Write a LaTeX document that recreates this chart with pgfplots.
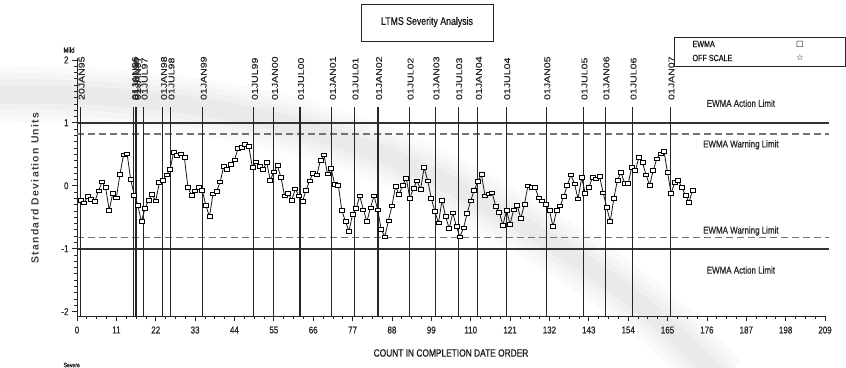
\documentclass[border=0pt]{standalone}
\usepackage{pgfplots}
\pgfplotsset{compat=1.18}
\usepackage{pgfplotstable}
\usepackage{fontspec}
\setmainfont{Liberation Sans}
\newfontfamily\cond{Liberation Sans}[FakeStretch=0.8, FakeBold=0.6]
\newfontfamily\wide{Liberation Sans}[FakeStretch=1.25, FakeBold=0.4]
\newfontfamily\ylabfont{Liberation Sans}[LetterSpace=12]
\newfontfamily\symfont{DejaVu Sans}

% EWMA of standardized severity, in completion order
\pgfplotstableread{
n v
1 -0.23
2 -0.27
3 -0.17
4 -0.22
5 -0.25
6 -0.08
7 0.06
8 -0.03
9 -0.39
10 -0.12
11 -0.19
12 0.18
13 0.49
14 0.51
15 0.10
16 -0.15
17 -0.31
18 -0.57
19 -0.36
20 -0.23
21 -0.14
22 -0.24
23 0.05
24 0.09
25 0.17
26 0.26
27 0.53
28 0.48
29 0.51
30 0.45
31 -0.03
32 -0.15
33 -0.08
34 -0.03
35 -0.07
36 -0.31
37 -0.49
38 -0.13
39 -0.09
40 0.06
41 0.31
42 0.26
43 0.34
44 0.41
45 0.59
46 0.61
47 0.66
48 0.63
49 0.29
50 0.38
51 0.31
52 0.26
53 0.37
54 0.09
55 0.22
56 0.32
57 0.13
58 -0.16
59 -0.12
60 -0.23
61 -0.05
62 -0.16
63 -0.25
64 -0.07
65 0.08
66 0.20
67 0.17
68 0.40
69 0.49
70 0.19
71 0.28
72 0.02
73 0.01
74 -0.39
75 -0.57
76 -0.72
77 -0.45
78 -0.36
79 -0.16
80 -0.38
81 -0.57
82 -0.35
83 -0.16
84 -0.38
85 -0.69
86 -0.81
87 -0.56
88 -0.32
89 -0.01
90 -0.14
91 0.01
92 0.12
93 -0.20
94 -0.04
95 0.08
96 -0.06
97 0.29
98 0.08
99 -0.20
100 -0.41
101 -0.59
102 -0.23
103 -0.49
104 -0.68
105 -0.43
106 -0.65
107 -0.81
108 -0.67
109 -0.44
110 -0.24
111 -0.07
112 0.07
113 0.18
114 -0.16
115 -0.13
116 -0.11
117 -0.33
118 -0.42
119 -0.63
120 -0.39
121 -0.61
122 -0.38
123 -0.31
124 -0.52
125 -0.30
126 0.00
127 -0.03
128 -0.03
129 -0.19
130 -0.24
131 -0.30
132 -0.39
133 -0.65
134 -0.39
135 -0.32
136 -0.17
137 0.01
138 0.17
139 0.03
140 -0.21
141 0.13
142 -0.12
143 -0.03
144 0.13
145 0.11
146 0.15
147 -0.11
148 -0.34
149 -0.57
150 -0.20
151 0.09
152 0.21
153 0.04
154 0.04
155 0.29
156 0.24
157 0.45
158 0.37
159 0.17
160 0.01
161 0.24
162 0.43
163 0.51
164 0.55
165 0.21
166 -0.12
167 0.05
168 0.09
169 -0.03
170 -0.15
171 -0.26
172 -0.07
}\ewma

% reference date marker: position in completion count, label
\newcommand{\dateline}[2]{%
  \draw[black!85, line width=1.1bp] (axis cs:#1,-2.07) -- (axis cs:#1,1.25);
  \node[rotate=90, anchor=west, inner sep=0pt, text=black!85,
        font=\wide\fontsize{8.5}{9}\selectfont] at (axis cs:#1+0.3,1.36) {#2};}

\begin{document}
\begin{tikzpicture}
% faint decorative swoosh in the page background
\foreach \w/\o in {56/0.018, 42/0.02, 30/0.02, 18/0.022} {
  \draw[line width=\w bp, black, opacity=\o, line cap=butt]
    (-10bp,-95bp) .. controls (170bp,-90bp) and (330bp,-120bp) ..
    (460bp,-190bp) .. controls (580bp,-255bp) and (660bp,-310bp) .. (720bp,-380bp);
}
\begin{axis}[
  at={(77bp,-316bp)}, anchor=south west,
  scale only axis, width=748bp, height=258bp,
  xmin=0, xmax=209, ymin=-2.07, ymax=2.03,
  clip=false,
  axis x line*=bottom, axis y line*=left,
  axis line style={black!85, line width=1bp},
  xtick={0,11,...,209}, ytick={-2,-1,0,1,2},
  minor x tick num=3, minor y tick num=9,
  tick align=outside,
  major tick length=5bp, minor tick length=3bp,
  tick style={black!85, line width=0.7bp},
  /pgf/number format/assume math mode=true,
  ticklabel style={font=\cond\fontsize{10}{12}\selectfont, text=black!85},
  xticklabel style={yshift=-2bp},
]
% control limits
\addplot[black!80, line width=1.8bp] coordinates {(0,1) (210,1)};
\addplot[black!80, line width=1.8bp] coordinates {(0,-1) (210,-1)};
\addplot[black!55, line width=1.4bp, dash pattern=on 7bp off 4bp] coordinates {(0,0.825) (210,0.825)};
\addplot[black!55, line width=1.4bp, dash pattern=on 7bp off 4bp] coordinates {(0,-0.825) (210,-0.825)};

\dateline{1}{20JAN95}
\dateline{15.9}{01JAN96}
\dateline{16.25}{01JUL96}
\dateline{16.7}{01JAN97}
\dateline{18.6}{01JUL97}
\dateline{24.0}{01JAN98}
\dateline{26.1}{01JUL98}
\dateline{35.1}{01JAN99}
\dateline{49.4}{01JUL99}
\dateline{55.0}{01JAN00}
\dateline{62.3}{01JUL00}
\dateline{71.2}{01JAN01}
\dateline{77.5}{01JUL01}
\dateline{84.1}{01JAN02}
\dateline{92.9}{01JUL02}
\dateline{100.1}{01JAN03}
\dateline{106.5}{01JUL03}
\dateline{112.0}{01JAN04}
\dateline{119.9}{01JUL04}
\dateline{131.1}{01JAN05}
\dateline{141.5}{01JUL05}
\dateline{147.6}{01JAN06}
\dateline{155.2}{01JUL06}
\dateline{165.8}{01JAN07}

\addplot[black!90, line width=0.8bp, mark=square*,
  mark size=1.8bp,
  mark options={xscale=1.4, fill=white, draw=black, line width=0.7bp, solid}]
  table[x=n, y=v] {\ewma};

\begin{scope}[font=\cond\fontsize{10}{12}\selectfont, text=black!85]
\node at (axis cs:185.5,1.31) {EWMA Action Limit};
\node at (axis cs:185.5,0.65) {EWMA Warning Limit};
\node at (axis cs:185.5,-0.72) {EWMA Warning Limit};
\node at (axis cs:185.5,-1.34) {EWMA Action Limit};
\end{scope}
\end{axis}

% title box
\draw[black!85, line width=0.9bp] (361bp,-4bp) rectangle (493bp,-41bp);
\node[font=\cond\fontsize{11}{13}\selectfont, text=black!90] at (427bp,-22bp) {LTMS Severity Analysis};

% legend
\draw[black!85, line width=0.9bp] (674bp,-37bp) rectangle (845bp,-66bp);
\node[anchor=west, font=\cond\fontsize{9}{11}\selectfont, text=black!90] at (689bp,-44bp) {EWMA};
\node[anchor=west, font=\cond\fontsize{9}{11}\selectfont, text=black!90] at (689bp,-58bp) {OFF SCALE};
\node[font=\symfont\fontsize{8}{9}\selectfont] at (800bp,-44bp) {□};
\node[font=\symfont\fontsize{8}{9}\selectfont] at (800bp,-58bp) {☆};

% axis titles
\node[rotate=90, font=\ylabfont\bfseries\fontsize{10.5}{12}\selectfont, text=black!75] at (35bp,-188bp) {Standard Deviation Units};
\node[font=\cond\fontsize{10.5}{12}\selectfont, text=black!90] at (451bp,-353bp) {COUNT IN COMPLETION DATE ORDER};
\node[anchor=west, font=\cond\fontsize{7.5}{8}\selectfont, text=black!90] at (60bp,-50bp) {Mild};
\node[anchor=west, font=\cond\fontsize{6.5}{8}\selectfont, text=black!90] at (60bp,-365bp) {Severe};

\pgfresetboundingbox
\useasboundingbox (0,0) rectangle (846bp,-368bp);
\end{tikzpicture}
\end{document}
